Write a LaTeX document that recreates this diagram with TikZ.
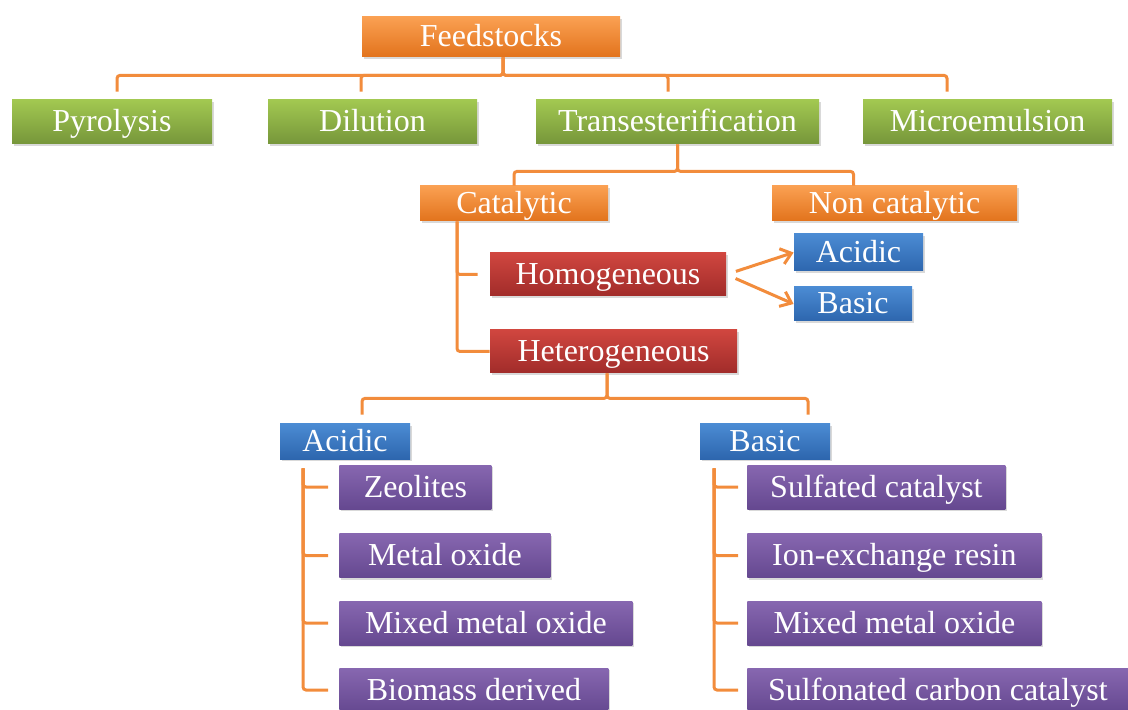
\documentclass[tikz,border=0pt]{standalone}
\usepackage{fontspec}
\setmainfont{Liberation Serif}
\usetikzlibrary{arrows.meta, shadows}

\definecolor{orgtop}{HTML}{FAA052}
\definecolor{orgbot}{HTML}{E2731C}
\definecolor{grntop}{HTML}{A2C851}
\definecolor{grnbot}{HTML}{76963A}
\definecolor{redtop}{HTML}{D0463F}
\definecolor{redbot}{HTML}{A12C2A}
\definecolor{blutop}{HTML}{4B8BD3}
\definecolor{blubot}{HTML}{2D66AE}
\definecolor{purtop}{HTML}{8767B0}
\definecolor{purbot}{HTML}{654890}
\definecolor{linkorange}{HTML}{F28C3C}

\tikzstyle{block} = [rectangle, inner sep=0pt, text centered, text=white, text height=10.5pt, text depth=0.5pt, font=\fontsize{16}{18}\selectfont, drop shadow={opacity=0.3, shadow xshift=1pt, shadow yshift=-1pt}]
\tikzstyle{orangebox} = [block, top color=orgtop, bottom color=orgbot]
\tikzstyle{greenbox} = [block, top color=grntop, bottom color=grnbot, minimum height=22pt]
\tikzstyle{redbox} = [block, top color=redtop, bottom color=redbot, minimum height=21.5pt]
\tikzstyle{bluebox} = [block, top color=blutop, bottom color=blubot]
\tikzstyle{purplebox} = [block, top color=purtop, bottom color=purbot, minimum height=22pt, anchor=west]
\tikzstyle{line} = [draw=linkorange, line width=1.5pt, rounded corners=1.5pt]
\tikzstyle{arrow} = [line, -{Straight Barb[length=5pt, width=8pt]}]

\begin{document}
\begin{tikzpicture}[x=0.5pt, y=-0.5pt]
\useasboundingbox (0,0) rectangle (1128,710);

% Feedstocks and methods
\node (F) [orangebox, minimum width=129pt, minimum height=20pt] at (491,37) {Feedstocks};
\node (P) [greenbox, minimum width=100pt] at (112,122) {Pyrolysis};
\node (D) [greenbox, minimum width=104.5pt] at (372.5,122) {Dilution};
\node (T) [greenbox, minimum width=141.5pt] at (677.5,122) {Transesterification};
\node (M) [greenbox, minimum width=124.5pt] at (987.5,122) {Microemulsion};

% Transesterification
\node (C) [orangebox, minimum width=94pt, minimum height=17.5pt] at (514,203.5) {Catalytic};
\node (NC) [orangebox, minimum width=122.5pt, minimum height=17.5pt] at (894.5,203.5) {Non catalytic};
\node (Hom) [redbox, minimum width=118pt] at (608,274.5) {Homogeneous};
\node (Het) [redbox, minimum width=123.5pt] at (613.5,351.5) {Heterogeneous};
\node (HA) [bluebox, minimum width=64.5pt, minimum height=18.5pt] at (858.5,252.5) {Acidic};
\node (HB) [bluebox, minimum width=59pt, minimum height=17pt] at (853,304) {Basic};

% Heterogeneous catalysts
\node (A) [bluebox, minimum width=65pt, minimum height=17.5pt] at (345,441.5) {Acidic};
\node (B) [bluebox, minimum width=65pt, minimum height=17.5pt] at (765,441.5) {Basic};

\node (A1) [purplebox, minimum width=76pt] at (339,487) {Zeolites};
\node (A2) [purplebox, minimum width=105.5pt] at (339,555.5) {Metal oxide};
\node (A3) [purplebox, minimum width=146.5pt] at (339,623) {Mixed metal oxide};
\node (A4) [purplebox, minimum width=134.5pt] at (339,690) {Biomass derived};

\node (B1) [purplebox, minimum width=129pt] at (747,487) {Sulfated catalyst};
\node (B2) [purplebox, minimum width=147pt] at (747,555.5) {Ion-exchange resin};
\node (B3) [purplebox, minimum width=147pt] at (747,623) {Mixed metal oxide};
\node (B4) [purplebox, minimum width=190.5pt] at (747,690) {Sulfonated carbon catalyst};

% Connecting lines
\draw [line, shorten >=4pt] ([xshift=6pt]F.south) -- ++(0,18) -| ([xshift=2.5pt]P.north);
\draw [line, shorten >=4pt] ([xshift=6pt]F.south) -- ++(0,18) -| ([xshift=-5.75pt]D.north);
\draw [line, shorten >=4pt] ([xshift=6pt]F.south) -- ++(0,18) -| ([xshift=-4.75pt]T.north);
\draw [line, shorten >=4pt] ([xshift=6pt]F.south) -- ++(0,18) -| ([xshift=-20.25pt]M.north);

\draw [line] (T.south) -- ++(0,27) -| (C.north);
\draw [line] (T.south) -- ++(0,27) -| ([xshift=-20.5pt]NC.north);

\draw [line, shorten >=6pt] ([xshift=-28.5pt]C.south) |- (Hom.west);
\draw [line] ([xshift=-28.5pt]C.south) |- (Het.west);

\draw [arrow, shorten <=5pt] (Hom.east) -- (HA.west);
\draw [arrow, shorten <=5pt] (Hom.east) -- (HB.west);

\draw [line, shorten >=4.5pt] ([xshift=-3.25pt]Het.south) -- ++(0,25) -| ([xshift=8.5pt]A.north);
\draw [line, shorten >=4.5pt] ([xshift=-3.25pt]Het.south) -- ++(0,25) -| ([xshift=21.5pt]B.north);

\draw [line, shorten <=4.5pt, shorten >=5.5pt] ([xshift=-21pt]A.south) |- (A1.west);
\draw [line, shorten <=4.5pt, shorten >=5.5pt] ([xshift=-21pt]A.south) |- (A2.west);
\draw [line, shorten <=4.5pt, shorten >=5.5pt] ([xshift=-21pt]A.south) |- (A3.west);
\draw [line, shorten <=4.5pt, shorten >=5.5pt] ([xshift=-21pt]A.south) |- (A4.west);

\draw [line, shorten <=4.5pt, shorten >=4.5pt] ([xshift=-25.5pt]B.south) |- (B1.west);
\draw [line, shorten <=4.5pt, shorten >=4.5pt] ([xshift=-25.5pt]B.south) |- (B2.west);
\draw [line, shorten <=4.5pt, shorten >=4.5pt] ([xshift=-25.5pt]B.south) |- (B3.west);
\draw [line, shorten <=4.5pt, shorten >=4.5pt] ([xshift=-25.5pt]B.south) |- (B4.west);

\end{tikzpicture}
\end{document}
